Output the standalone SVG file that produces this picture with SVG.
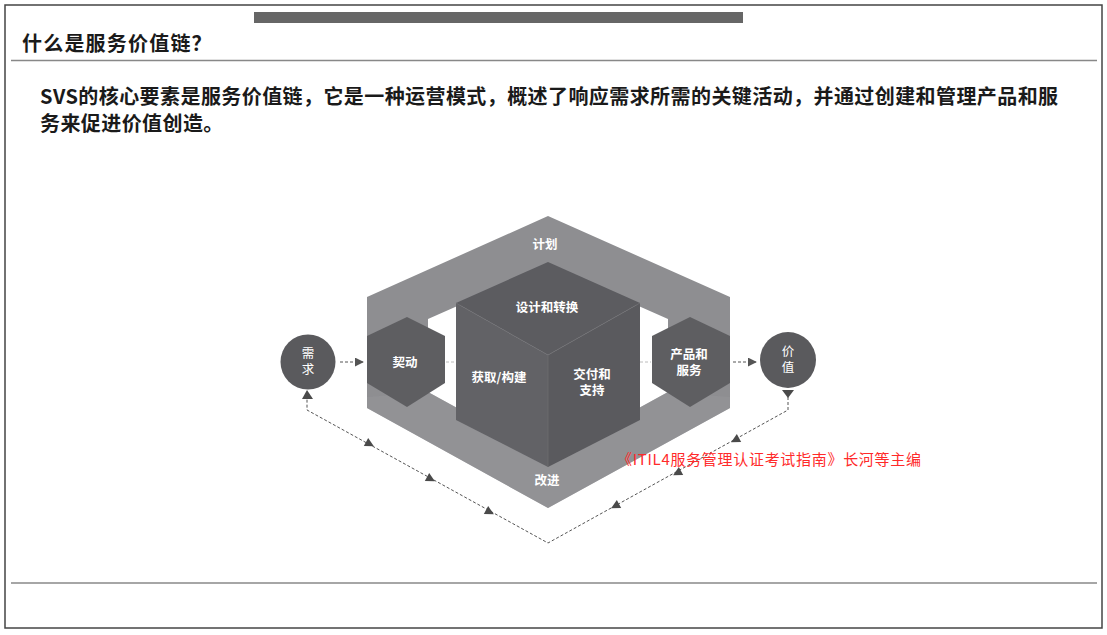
<svg xmlns="http://www.w3.org/2000/svg" width="1107" height="635" viewBox="0 0 1107 635">
<defs>
<style>
.cjk{font-family:"Noto Sans CJK SC","Liberation Sans",sans-serif;}
.head{font-size:20px;font-weight:700;fill:#1a1a1a;}
.lbl{font-size:12.5px;font-weight:700;fill:#ffffff;text-anchor:middle;}
.clbl{font-size:12.5px;font-weight:400;fill:#ffffff;text-anchor:middle;}
.ring{fill:#8e8e91;}
.hex{fill:#5e5e61;}
.circ{fill:#5a5a5d;}
.dash{fill:none;stroke:#555;stroke-width:1;stroke-dasharray:3 2;}
.faint{fill:none;stroke:#bcbcbc;stroke-width:1;stroke-dasharray:3 2;}
.tri{fill:#4a4a4a;}
</style>
<marker id="ah" viewBox="0 0 10 10" refX="9" refY="5" markerWidth="9" markerHeight="9" markerUnits="userSpaceOnUse" orient="auto">
<path d="M0,0 L10,5 L0,10 z" fill="#555"/>
</marker>
</defs>
<rect x="0" y="0" width="1107" height="635" fill="#ffffff"/>
<rect x="5" y="5" width="1097" height="623" fill="none" stroke="#444" stroke-width="1.5"/>
<rect x="254" y="12" width="489" height="11" fill="#666666"/>
<line x1="11" y1="60.5" x2="1097" y2="60.5" stroke="#888" stroke-width="1.5"/>
<line x1="11" y1="583" x2="1097" y2="583" stroke="#888" stroke-width="1.5"/>
<text class="cjk head" x="22" y="51" letter-spacing="1.2">什么是服务价值链？</text>
<text class="cjk head" x="40" y="104" letter-spacing="0.42">SVS的核心要素是服务价值链，它是一种运营模式，概述了响应需求所需的关键活动，并通过创建和管理产品和服</text>
<text class="cjk head" x="40" y="131" letter-spacing="0.42">务来促进价值创造。</text>

<g id="ring">
<path class="ring" fill-rule="evenodd" d="M548,216 L730,297 L730,408 L548,508 L367,408 L367,297 Z M548,266 L668,319 L668,392 L548,458 L428,392 L428,319 Z"/>
<path d="M367,397 L428,392 L548,458 L668,392 L730,397 L730,408 L548,508 L367,408 Z" fill="#96969a" opacity="0.5"/>
<text class="cjk lbl" x="545" y="249">计划</text>
<text class="cjk lbl" x="547" y="485">改进</text>
</g>

<g id="connectors">
<line class="faint" x1="446" y1="362" x2="456" y2="362"/>
<line class="faint" x1="640" y1="362" x2="651" y2="362"/>
<line class="dash" x1="340" y1="362" x2="363" y2="362" marker-end="url(#ah)"/>
<line class="dash" x1="733" y1="362" x2="756" y2="362" marker-end="url(#ah)"/>
<polyline class="dash" points="788,397 788,410 548,543 307,410 307,395"/>
<path class="tri" d="M782,390 L794,390 L788,398 Z"/>
<path class="tri" d="M302,399 L313,399 L307,390 Z"/>
<path class="tri" d="M0,-4.5 L0,4.5 L-9,0 Z" transform="translate(739,438) rotate(-29)"/>
<path class="tri" d="M0,-4.5 L0,4.5 L-9,0 Z" transform="translate(681,471) rotate(-29)"/>
<path class="tri" d="M0,-4.5 L0,4.5 L-9,0 Z" transform="translate(619,504) rotate(-29)"/>
<path class="tri" d="M0,-4.5 L0,4.5 L-9,0 Z" transform="translate(366,442) rotate(209)"/>
<path class="tri" d="M0,-4.5 L0,4.5 L-9,0 Z" transform="translate(427,477) rotate(209)"/>
<path class="tri" d="M0,-4.5 L0,4.5 L-9,0 Z" transform="translate(486,510) rotate(209)"/>
</g>

<g id="cube">
<path d="M548,262 L640,303 L548,355 L456,303 Z" fill="#5c5c60"/>
<path d="M456,303 L548,355 L548,467 L456,420 Z" fill="#626266"/>
<path d="M548,355 L640,303 L640,420 L548,467 Z" fill="#5a5a5e"/>
<path d="M456,303 L548,355 L640,303 M548,355 L548,467" fill="none" stroke="#6c6c70" stroke-width="0.8"/>
<text class="cjk lbl" x="547" y="312">设计和转换</text>
<text class="cjk lbl" x="499" y="382">获取/构建</text>
<text class="cjk lbl" x="592" y="379">交付和</text>
<text class="cjk lbl" x="592" y="395">支持</text>
</g>

<g id="engage">
<path class="hex" d="M407,317 L445,336 L445,383 L407,407 L367,383 L367,336 Z"/>
<text class="cjk lbl" x="405" y="367">契动</text>
</g>

<g id="products">
<path class="hex" d="M690,317 L730,336 L730,383 L690,407 L652,383 L652,336 Z"/>
<text class="cjk lbl" x="689" y="359">产品和</text>
<text class="cjk lbl" x="689" y="375">服务</text>
</g>

<g id="demand">
<circle class="circ" cx="308" cy="362" r="27.5"/>
<text class="cjk clbl" x="308" y="358">需</text>
<text class="cjk clbl" x="308" y="374">求</text>
</g>

<g id="value">
<circle class="circ" cx="788" cy="360" r="28"/>
<text class="cjk clbl" x="788" y="356">价</text>
<text class="cjk clbl" x="788" y="372">值</text>
</g>

<text class="cjk" x="617" y="465" font-size="15" letter-spacing="0.7" fill="#ff2a2a">《ITIL4服务管理认证考试指南》长河等主编</text>
</svg>
